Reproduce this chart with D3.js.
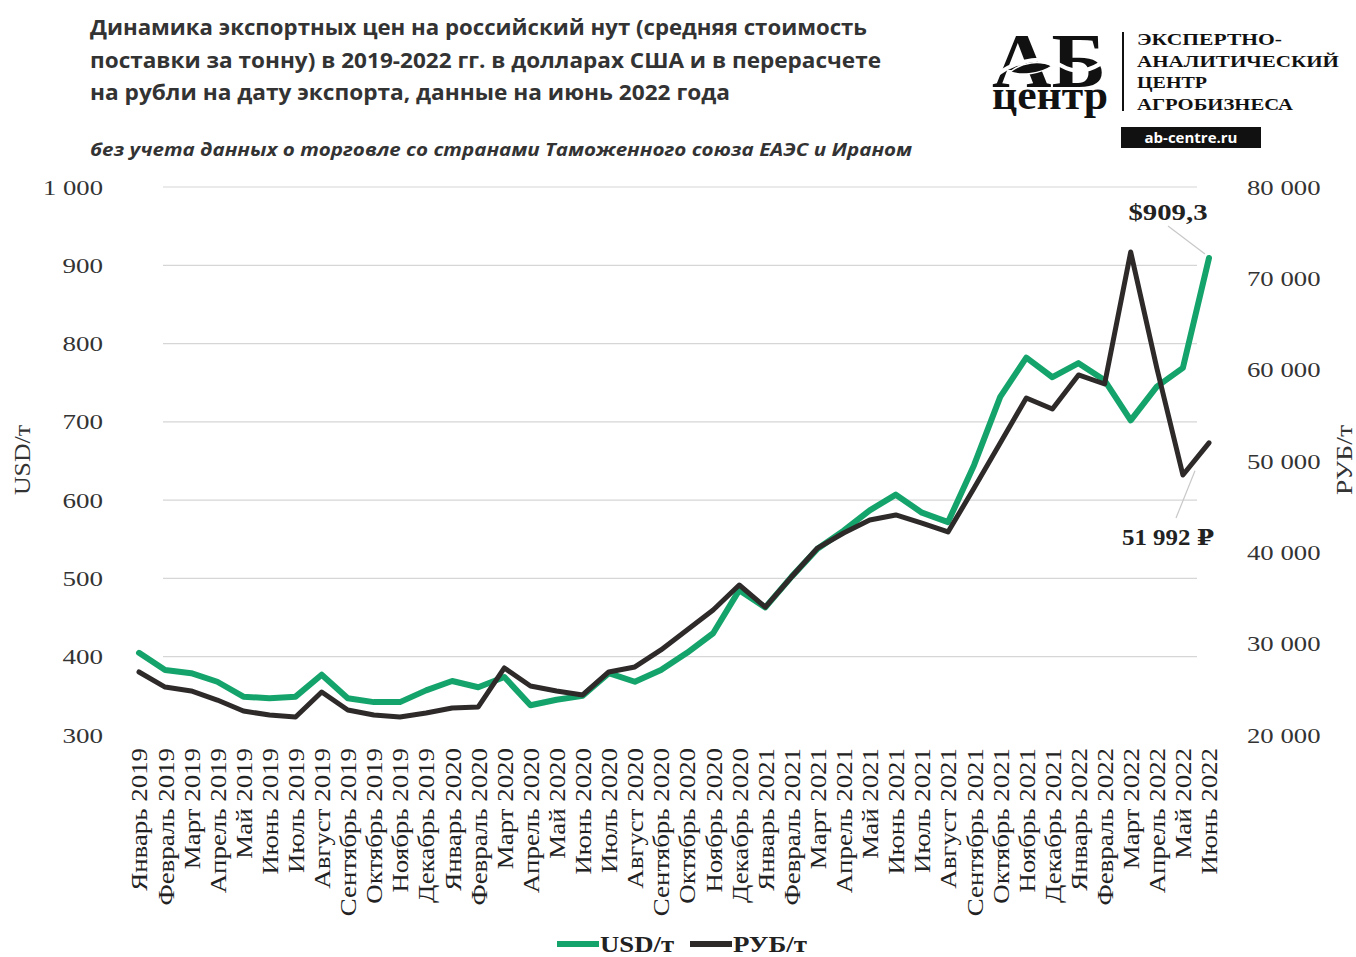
<!DOCTYPE html>
<html lang="ru">
<head>
<meta charset="utf-8">
<script src="https://cdn.jsdelivr.net/npm/d3@7"></script>
<style>
  html, body { margin: 0; padding: 0; background: #ffffff; }
  svg { display: block; }
</style>
</head>
<body>
<svg id="chart" width="1356" height="957"></svg>
<script>
// Месяцы (категории оси X)
const months = [
  "Январь 2019","Февраль 2019","Март 2019","Апрель 2019","Май 2019","Июнь 2019",
  "Июль 2019","Август 2019","Сентябрь 2019","Октябрь 2019","Ноябрь 2019","Декабрь 2019",
  "Январь 2020","Февраль 2020","Март 2020","Апрель 2020","Май 2020","Июнь 2020",
  "Июль 2020","Август 2020","Сентябрь 2020","Октябрь 2020","Ноябрь 2020","Декабрь 2020",
  "Январь 2021","Февраль 2021","Март 2021","Апрель 2021","Май 2021","Июнь 2021",
  "Июль 2021","Август 2021","Сентябрь 2021","Октябрь 2021","Ноябрь 2021","Декабрь 2021",
  "Январь 2022","Февраль 2022","Март 2022","Апрель 2022","Май 2022","Июнь 2022"
];

// Средняя экспортная цена, USD за тонну
const usdPerTon = [
  405, 383, 379, 368, 349, 347, 349, 377, 347, 342, 342, 357,
  369, 361, 374, 338, 345, 350, 379, 368, 383, 405, 430, 485,
  463, 502, 538, 561, 587, 607, 584, 572, 645, 732, 782, 757,
  775, 753, 702, 745, 769, 909.3
];

// Та же цена в пересчёте на рубли на дату экспорта, руб. за тонну
const rubPerTon = [
  26900, 25250, 24820, 23830, 22630, 22190, 21970, 24710, 22740, 22190, 21970, 22410,
  22960, 23070, 27340, 25370, 24820, 24380, 26900, 27450, 29310, 31500, 33690, 36420,
  34010, 37300, 40470, 42120, 43540, 44090, 43210, 42230, 47040, 51970, 56900, 55690,
  59420, 58430, 72880, 60180, 48470, 51992
];

// Деления осей
const usdTicks = [300, 400, 500, 600, 700, 800, 900, 1000];
const rubTicks = [20000, 30000, 40000, 50000, 60000, 70000, 80000];

const titleLines = [
  "Динамика экспортных цен на российский нут (средняя стоимость",
  "поставки за тонну) в 2019-2022 гг. в долларах США и в перерасчете",
  "на рубли на дату экспорта, данные на июнь 2022 года"
];
const subtitle = "без учета данных о торговле со странами Таможенного союза ЕАЭС и Ираном";

const GREEN = "#14a46b";
const DARK = "#2e2a2a";
const serif = "'Liberation Serif', 'DejaVu Serif', serif";
const sans = "'Open Sans', 'Liberation Sans', sans-serif";

const svg = d3.select("#chart");

// Ширина числовой подписи: цифры широкие, пробел узкий
const numWidth = s => s.replace(/\s/g, "").length * 13.5 + (s.match(/\s/g) || []).length * 6;

// ---------- Заголовок ----------
const titleWidths = [777, 791, 640];
const titleBase = [35, 68, 100];
titleLines.forEach((t, i) => {
  svg.append("text")
    .attr("x", 90).attr("y", titleBase[i])
    .attr("font-family", sans).attr("font-weight", 700).attr("font-size", 20.5)
    .attr("fill", "#333")
    .attr("textLength", titleWidths[i]).attr("lengthAdjust", "spacingAndGlyphs")
    .text(t);
});
svg.append("text")
  .attr("x", 90).attr("y", 156)
  .attr("font-family", sans).attr("font-weight", 700).attr("font-style", "italic")
  .attr("font-size", 17).attr("fill", "#333")
  .attr("textLength", 822).attr("lengthAdjust", "spacingAndGlyphs")
  .text(subtitle);

// ---------- Логотип ----------
const logo = svg.append("g");
const mark = logo.append("text")
  .attr("font-family", serif).attr("font-weight", 700)
  .attr("fill", "#111");
mark.append("tspan")
  .attr("x", 992).attr("y", 87).attr("font-size", 78)
  .attr("textLength", 114).attr("lengthAdjust", "spacingAndGlyphs")
  .text("АБ");
mark.append("tspan")
  .attr("x", 992).attr("y", 109).attr("font-size", 40)
  .attr("textLength", 116).attr("lengthAdjust", "spacingAndGlyphs")
  .text("центр");
// лист поверх букв
logo.append("path")
  .attr("d", "M998,74 C1020,58 1045,56 1062,66 C1078,75 1092,70 1106,60")
  .attr("fill", "none").attr("stroke", "#fff").attr("stroke-width", 4);
logo.append("path")
  .attr("d", "M1010,72 C1022,62 1040,60 1052,66 C1040,74 1022,76 1010,72 Z")
  .attr("fill", "#111").attr("stroke", "#fff").attr("stroke-width", 1.5);
logo.append("line")
  .attr("x1", 1123).attr("x2", 1123).attr("y1", 32).attr("y2", 111)
  .attr("stroke", "#111").attr("stroke-width", 2);
const logoLines = [
  ["ЭКСПЕРТНО-", 45, 145],
  ["АНАЛИТИЧЕСКИЙ", 67, 202],
  ["ЦЕНТР", 88, 70],
  ["АГРОБИЗНЕСА", 110, 156]
];
logoLines.forEach(([t, y, w]) => {
  logo.append("text")
    .attr("x", 1137).attr("y", y)
    .attr("font-family", serif).attr("font-weight", 700).attr("font-size", 17)
    .attr("fill", "#111").attr("textLength", w).attr("lengthAdjust", "spacingAndGlyphs")
    .text(t);
});
logo.append("rect")
  .attr("x", 1121).attr("y", 127).attr("width", 140).attr("height", 21)
  .attr("fill", "#111");
logo.append("text")
  .attr("x", 1191).attr("y", 143)
  .attr("text-anchor", "middle")
  .attr("font-family", sans).attr("font-weight", 700).attr("font-size", 15)
  .attr("fill", "#fff")
  .text("ab-centre.ru");

// ---------- Шкалы ----------
const x = d3.scalePoint().domain(months).range([139, 1209]);
const yUsd = d3.scaleLinear().domain([300, 1000]).range([735, 187]);
const yRub = d3.scaleLinear().domain([20000, 80000]).range([735, 187]);

// Сетка по левой оси
svg.append("g")
  .selectAll("line")
  .data(usdTicks.filter(v => v > 300))
  .join("line")
  .attr("x1", 163).attr("x2", 1197)
  .attr("y1", d => yUsd(d)).attr("y2", d => yUsd(d))
  .attr("stroke", "#d6d6d6").attr("stroke-width", 1.2);

// Формат с пробелом-разделителем разрядов
const ru = d3.formatLocale({ decimal: ",", thousands: " ", grouping: [3], currency: ["", ""] });
const fmtInt = ru.format(",d");

const leftAxis = svg.append("g")
  .attr("transform", "translate(106,0)")
  .call(d3.axisLeft(yUsd).tickValues(usdTicks).tickSize(0).tickPadding(3).tickFormat(fmtInt));
leftAxis.select(".domain").remove();
leftAxis.selectAll("text")
  .attr("font-family", serif).attr("font-size", 22).attr("fill", "#333")
  .attr("textLength", function () { return numWidth(this.textContent); })
  .attr("lengthAdjust", "spacingAndGlyphs");

const rightAxis = svg.append("g")
  .attr("transform", "translate(1244,0)")
  .call(d3.axisRight(yRub).tickValues(rubTicks).tickSize(0).tickPadding(3).tickFormat(fmtInt));
rightAxis.select(".domain").remove();
rightAxis.selectAll("text")
  .attr("font-family", serif).attr("font-size", 22).attr("fill", "#333")
  .attr("textLength", function () { return numWidth(this.textContent); })
  .attr("lengthAdjust", "spacingAndGlyphs");

// Подписи осей
svg.append("text")
  .attr("transform", "translate(30,460) rotate(-90)")
  .attr("text-anchor", "middle")
  .attr("font-family", serif).attr("font-size", 24).attr("fill", "#333")
  .attr("textLength", 70).attr("lengthAdjust", "spacingAndGlyphs")
  .text("USD/т");
svg.append("text")
  .attr("transform", "translate(1352,460) rotate(-90)")
  .attr("text-anchor", "middle")
  .attr("font-family", serif).attr("font-size", 24).attr("fill", "#333")
  .attr("textLength", 70).attr("lengthAdjust", "spacingAndGlyphs")
  .text("РУБ/т");

// Ось X: подписи месяцев, повёрнутые вертикально
const bottomAxis = svg.append("g")
  .attr("transform", "translate(0,745)")
  .call(d3.axisBottom(x).tickSize(0).tickPadding(0));
bottomAxis.select(".domain").remove();
bottomAxis.selectAll("text")
  .attr("font-family", serif).attr("font-size", 24).attr("fill", "#222")
  .attr("text-anchor", "end")
  .attr("transform", "rotate(-90)")
  .attr("x", -3).attr("y", 0).attr("dy", "0.33em")
  .each(function () {
    const w = this.getComputedTextLength();
    d3.select(this).attr("textLength", w * 1.12).attr("lengthAdjust", "spacingAndGlyphs");
  });

// ---------- Линии ----------
const lineUsd = d3.line().x((d, i) => x(months[i])).y(d => yUsd(d));
const lineRub = d3.line().x((d, i) => x(months[i])).y(d => yRub(d));

svg.append("path")
  .datum(usdPerTon)
  .attr("d", lineUsd)
  .attr("fill", "none").attr("stroke", GREEN).attr("stroke-width", 6)
  .attr("stroke-linejoin", "round").attr("stroke-linecap", "round");

svg.append("path")
  .datum(rubPerTon)
  .attr("d", lineRub)
  .attr("fill", "none").attr("stroke", DARK).attr("stroke-width", 5)
  .attr("stroke-linejoin", "round").attr("stroke-linecap", "round");

// ---------- Подписи последних значений ----------
const last = months.length - 1;
const usdLast = usdPerTon[last];
const rubLast = rubPerTon[last];

svg.append("line")
  .attr("x1", 1168).attr("y1", 226)
  .attr("x2", x(months[last]) - 4).attr("y2", yUsd(usdLast) - 4)
  .attr("stroke", "#c8c8c8").attr("stroke-width", 1.2);
svg.append("text")
  .attr("x", 1168).attr("y", 220)
  .attr("text-anchor", "middle")
  .attr("font-family", serif).attr("font-weight", 700).attr("font-size", 23)
  .attr("fill", "#222")
  .attr("textLength", 79).attr("lengthAdjust", "spacingAndGlyphs")
  .text("$" + d3.format(".1f")(usdLast).replace(".", ","));

svg.append("line")
  .attr("x1", 1176).attr("y1", 518)
  .attr("x2", x(months[last]) - 14).attr("y2", yRub(rubLast) + 28)
  .attr("stroke", "#c8c8c8").attr("stroke-width", 1.2);
svg.append("text")
  .attr("x", 1168).attr("y", 545)
  .attr("text-anchor", "middle")
  .attr("font-family", serif).attr("font-weight", 700).attr("font-size", 23)
  .attr("fill", "#222")
  .attr("textLength", 92).attr("lengthAdjust", "spacingAndGlyphs")
  .text(fmtInt(rubLast) + " ₽");

// ---------- Легенда ----------
const legend = svg.append("g");
const legendItems = [
  { label: "USD/т", color: GREEN, x: 557 },
  { label: "РУБ/т", color: DARK, x: 690 }
];
legendItems.forEach(it => {
  legend.append("line")
    .attr("x1", it.x).attr("x2", it.x + 42)
    .attr("y1", 944).attr("y2", 944)
    .attr("stroke", it.color).attr("stroke-width", 6);
  legend.append("text")
    .attr("x", it.x + 43).attr("y", 952)
    .attr("font-family", serif).attr("font-weight", 700).attr("font-size", 24)
    .attr("fill", "#222")
    .attr("textLength", 74).attr("lengthAdjust", "spacingAndGlyphs")
    .text(it.label);
});
</script>
</body>
</html>
